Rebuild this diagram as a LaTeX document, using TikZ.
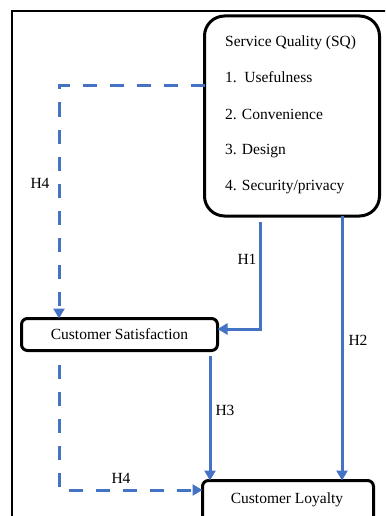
\documentclass[tikz,border=0pt]{standalone}
\usepackage{fontspec}
\setmainfont{Liberation Serif}
\usetikzlibrary{arrows.meta}
\definecolor{hblue}{RGB}{68,114,196}
\begin{document}
\begin{tikzpicture}[x=1pt,y=-1pt,
  font=\fontsize{15.5}{18}\selectfont,
  box/.style={draw=black, line width=3pt, inner sep=0pt, outer sep=0pt},
  link/.style={draw=hblue, line width=3pt, -{Triangle[length=10pt,width=11pt]}},
  dlink/.style={link, dash pattern=on 14pt off 13pt},
  txt/.style={inner sep=0pt, anchor=base west},
  lbl/.style={inner sep=0pt}]
\useasboundingbox (0,0) rectangle (385,516);
\clip (0,0) rectangle (385,516);
\draw[line width=1.5pt] (12,540) -- (12,11) -- (400,11);
% boxes
\node[box, rounded corners=20pt, minimum width=175pt, minimum height=200pt] (sq) at (292,116) {};
\node[txt] (t0) at (225,47) {Service Quality (SQ)};
\node[txt] (t1) at (225,83) {1.\hspace{7.5pt}Usefulness};
\node[txt] (t2) at (225,119) {2. Convenience};
\node[txt] (t3) at (225,154) {3. Design};
\node[txt] (t4) at (225,190) {4. Security/privacy};
\node[box, rounded corners=6pt, minimum width=196pt, minimum height=32pt] (cs) at (119.5,334.5) {Customer Satisfaction};
\node[box, rounded corners=6pt, minimum width=171pt, minimum height=60pt] (cl) at (288,510.5) {};
\node[txt, anchor=base] (clt) at (287,503) {Customer Loyalty};
% connectors
\coordinate (k1) at (59,86);
\draw[dlink] (k1 -| sq.west) -- (k1) -- (k1 |- cs.north);
\coordinate (k2) at (260,329);
\draw[link] ([yshift=-6pt]k2 |- sq.south) -- (k2) -- (k2 -| cs.east);
\coordinate (k3) at (342,0);
\draw[link] (k3 |- sq.south) -- (k3 |- cl.north);
\coordinate (k4) at (210,0);
\draw[link] ([yshift=-5pt]k4 |- cs.south) -- (k4 |- cl.north);
\coordinate (k5) at (59,490);
\draw[dlink] ([yshift=-14pt]k5 |- cs.south) -- (k5) -- (k5 -| cl.west);
% labels
\node[lbl] (h4a) at (40,183) {H4};
\node[lbl] (h1) at (247,259) {H1};
\node[lbl] (h2) at (358,340) {H2};
\node[lbl] (h3) at (225,410) {H3};
\node[lbl] (h4b) at (121,478) {H4};
\end{tikzpicture}
\end{document}
